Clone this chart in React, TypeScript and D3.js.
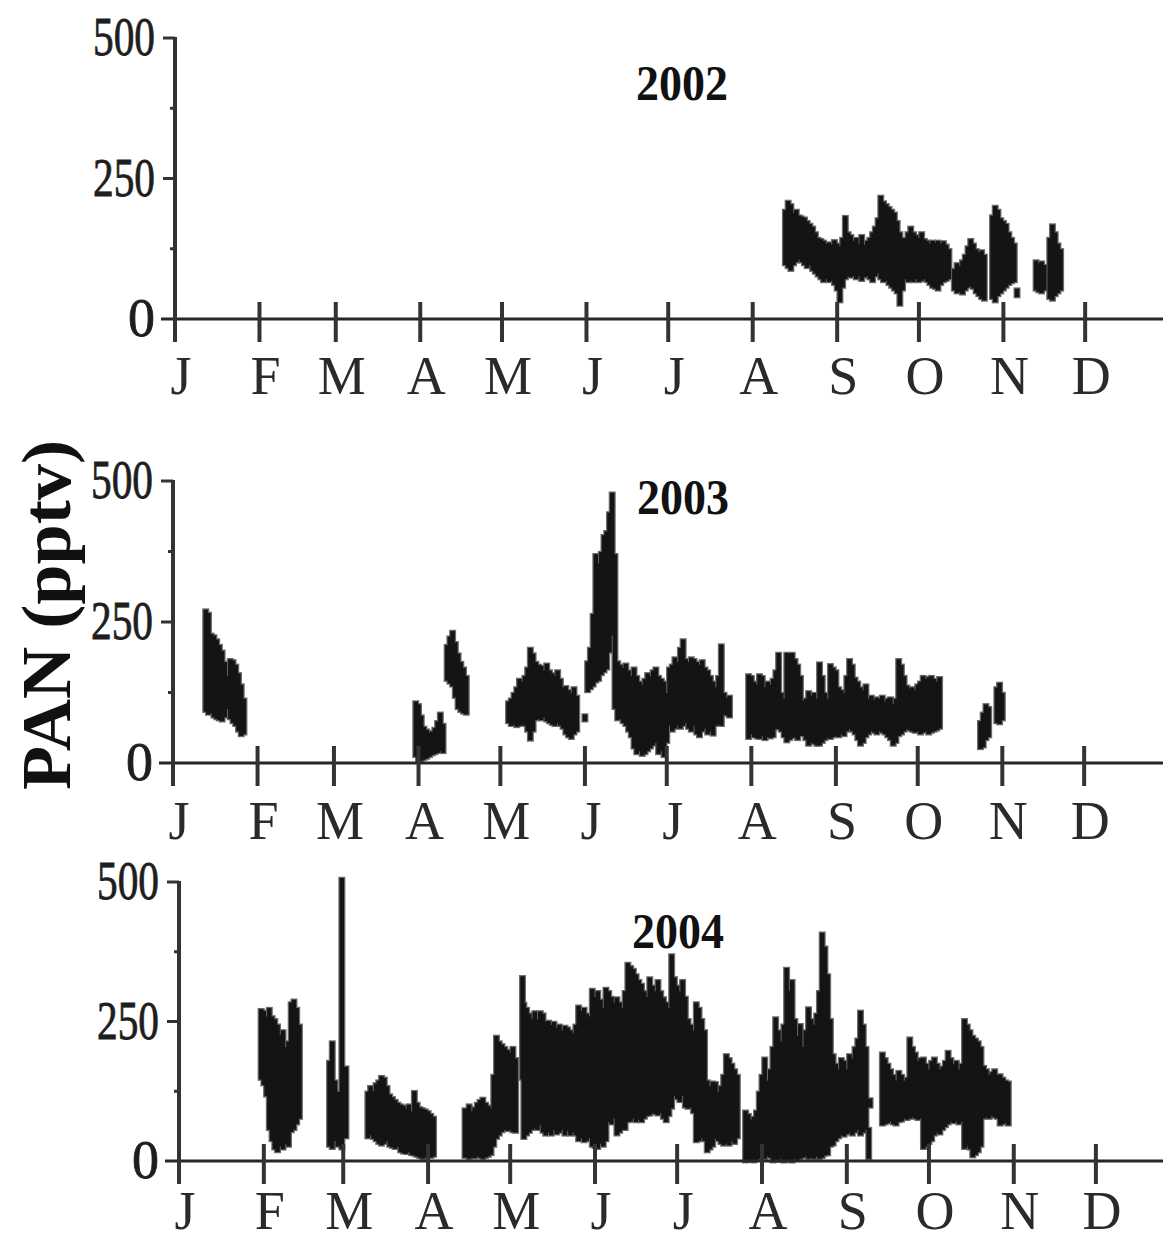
import * as d3 from 'd3'

// PAN mixing ratio, pptv — daily [dayOfYear (0 = Jan 1), low, high]
const pan2002: [number, number, number][] = [
    [224, 100, 190], [225, 95, 206], [226, 90, 200], [227, 100, 185], [228, 105, 190], [229, 110, 180], [230, 105, 178],
    [231, 100, 176], [232, 95, 170], [233, 100, 165], [234, 90, 160], [235, 85, 150], [236, 80, 140], [237, 75, 138],
    [238, 70, 135], [239, 75, 130], [240, 70, 132], [241, 72, 128], [242, 65, 136], [243, 55, 130], [244, 34, 125],
    [245, 60, 140], [246, 75, 179], [247, 80, 150], [248, 78, 145], [249, 80, 135], [250, 75, 140], [251, 80, 130],
    [252, 72, 145], [253, 78, 128], [254, 80, 135], [255, 75, 140], [256, 70, 150], [257, 80, 160], [258, 85, 175],
    [259, 75, 215], [260, 70, 205], [261, 72, 200], [262, 65, 195], [263, 60, 190], [264, 55, 185], [265, 50, 170],
    [266, 28, 150], [267, 55, 140], [268, 75, 140], [269, 70, 150], [270, 72, 160], [271, 70, 150], [272, 75, 145],
    [273, 70, 140], [274, 72, 150], [275, 75, 138], [276, 70, 135], [277, 65, 130], [278, 60, 135], [279, 58, 132],
    [280, 55, 135], [281, 65, 130], [282, 70, 134], [283, 72, 128], [284, 75, 120],
    [286, 55, 85], [287, 50, 95], [288, 52, 90], [289, 48, 100], [290, 55, 110], [291, 60, 125], [292, 62, 138],
    [293, 58, 130], [294, 50, 120], [295, 45, 115], [296, 40, 118], [297, 37, 110],
    [300, 40, 180], [301, 34, 197], [302, 45, 190], [303, 50, 175], [304, 55, 170], [305, 60, 165], [306, 65, 150],
    [307, 68, 140], [308, 70, 130], [309, 43, 50],
    [316, 55, 100], [317, 52, 95], [318, 50, 98], [319, 55, 92], [321, 40, 140], [322, 37, 164], [323, 45, 150],
    [324, 50, 130], [325, 55, 120],
]

const pan2003: [number, number, number][] = [
    [12, 95, 268], [13, 90, 262], [14, 92, 225], [15, 85, 222], [16, 82, 215], [17, 80, 205], [18, 78, 195],
    [19, 85, 175], [20, 100, 150], [21, 82, 180], [22, 75, 178], [23, 70, 170], [24, 60, 155], [25, 52, 135], [26, 55, 110],
    [89, 15, 105], [90, 5, 100], [91, 8, 80], [92, 10, 60], [93, 12, 55], [94, 15, 50], [95, 18, 52], [96, 20, 58],
    [97, 22, 70], [98, 25, 85], [99, 22, 65],
    [100.5, 150, 205], [101.5, 145, 220], [102.5, 140, 230], [103.5, 120, 210], [104.5, 100, 190], [105.5, 95, 175],
    [106.5, 92, 165], [107.5, 90, 150],
    [123, 75, 105], [124, 70, 110], [125, 72, 120], [126, 68, 130], [127, 70, 145], [128, 72, 140], [129, 70, 150],
    [130, 60, 165], [131, 44, 200], [132, 60, 190], [133, 80, 175], [134, 82, 170], [135, 80, 168], [136, 85, 160],
    [137, 78, 172], [138, 75, 160], [139, 72, 155], [140, 70, 150], [141, 75, 160], [142, 70, 145], [143, 65, 130],
    [144, 55, 132], [145, 50, 125], [146, 47, 120], [147, 55, 130], [148, 60, 115],
    [151, 78, 82],
    [152, 130, 176], [153, 135, 200], [154, 140, 260], [155, 147, 366], [156, 150, 350], [157, 160, 370], [158, 165, 400],
    [159, 170, 407], [160, 200, 440], [161, 230, 475], [162, 100, 366],
    [163, 80, 176], [164, 82, 170], [165, 75, 165], [166, 70, 172], [167, 60, 160], [168, 50, 150], [169, 30, 165],
    [170, 20, 150], [171, 25, 140], [172, 17, 135], [173, 20, 145], [174, 25, 155], [175, 30, 150], [176, 35, 160],
    [177, 40, 165], [178, 20, 150], [179, 25, 145], [180, 15, 140], [181, 40, 120], [182, 70, 165], [183, 60, 170],
    [184, 65, 183], [185, 70, 175], [186, 65, 200], [187, 70, 215], [188, 75, 180], [189, 65, 175], [190, 60, 183],
    [191, 70, 180], [192, 55, 175], [193, 50, 170], [194, 60, 178], [195, 65, 165], [196, 55, 160], [197, 60, 150],
    [198, 53, 140], [199, 70, 130], [200, 72, 150], [201, 70, 206], [202, 90, 120], [203, 88, 111], [204, 85, 115],
    [211, 47, 153], [212, 55, 150], [213, 50, 140], [214, 48, 135], [215, 47, 153], [216, 52, 150], [217, 45, 130],
    [218, 50, 140], [219, 48, 135], [220, 50, 145], [221, 64, 160], [222, 64, 191], [223, 60, 120], [224, 50, 110],
    [225, 41, 191], [226, 45, 190], [227, 48, 191], [228, 50, 180], [229, 45, 170], [230, 52, 150], [231, 52, 106],
    [232, 45, 110], [233, 35, 123], [234, 40, 115], [235, 38, 120], [236, 35, 110], [237, 35, 174], [238, 40, 150],
    [239, 45, 120], [240, 48, 110], [241, 47, 171], [242, 50, 165], [243, 52, 160], [244, 50, 130], [245, 55, 125],
    [246, 52, 120], [247, 60, 150], [248, 64, 180], [249, 60, 170], [250, 55, 147], [251, 45, 140], [252, 35, 130],
    [253, 40, 125], [254, 50, 135], [255, 55, 110], [256, 60, 115], [257, 58, 108], [258, 55, 112], [259, 60, 110],
    [260, 58, 115], [261, 55, 105], [262, 50, 110], [263, 45, 112], [264, 35, 100], [265, 40, 110], [266, 52, 180],
    [267, 55, 170], [268, 60, 150], [269, 64, 133], [270, 62, 128], [271, 60, 130], [272, 58, 125], [273, 60, 135],
    [274, 55, 140], [275, 58, 150], [276, 60, 145], [277, 55, 148], [278, 58, 150], [279, 60, 145], [280, 62, 140],
    [281, 65, 148],
    [296, 29, 70], [297, 32, 85], [298, 45, 100], [299, 50, 95],
    [302, 75, 130], [303, 73, 138], [304, 80, 120],
]

const pan2004: [number, number, number][] = [
    [30, 150, 268], [31, 140, 265], [32, 120, 255], [33, 60, 270], [34, 40, 255], [35, 25, 250], [36, 20, 240],
    [37, 30, 222], [38, 25, 230], [39, 35, 200], [40, 30, 210], [41, 56, 280], [42, 60, 285], [43, 70, 270], [44, 80, 240],
    [55, 30, 175], [56, 26, 210], [57, 40, 140], [58, 30, 120], [59.5, 25, 503], [61, 45, 165],
    [69, 45, 120], [70, 50, 130], [71, 44, 121], [72, 40, 135], [73, 35, 140], [74, 32, 148], [75, 35, 145],
    [76, 40, 130], [77, 30, 115], [78, 28, 110], [79, 26, 105], [80, 30, 100], [81, 20, 97], [82, 18, 95],
    [83, 17, 90], [84, 20, 97], [85, 15, 85], [86, 14, 121], [87, 12, 100], [88, 10, 92], [89, 8, 90], [90, 10, 88],
    [91, 12, 85], [92, 10, 80], [93, 12, 75],
    [104.5, 10, 90], [106, 8, 97], [107, 10, 85], [108, 9, 92], [109, 12, 100], [110, 10, 105], [111, 8, 109],
    [112, 10, 100], [113, 12, 95], [114, 15, 90], [115, 30, 150], [116, 44, 220], [117, 50, 210], [118, 56, 205],
    [119, 60, 200], [120, 58, 195], [121, 60, 190], [122, 56, 200], [123, 55, 180], [125.5, 150, 327], [126, 44, 279],
    [127, 50, 270], [128, 55, 260], [129, 60, 250], [130, 62, 264], [131, 60, 250], [132, 68, 264], [133, 55, 260],
    [134, 50, 246], [135, 55, 247], [136, 50, 240], [137, 60, 245], [138, 52, 235], [139, 55, 240], [140, 60, 230],
    [141, 50, 238], [142, 58, 235], [143, 50, 230], [144, 55, 225], [145, 50, 240],
    [146, 40, 274], [147, 45, 265], [148, 38, 270], [149, 40, 260], [150, 45, 255], [151, 30, 304], [152, 28, 290],
    [153, 26, 300], [154, 35, 285], [155, 30, 270], [156, 40, 306], [157, 74, 300], [158, 70, 290], [159, 80, 280],
    [160, 50, 289], [161, 55, 280], [162, 60, 270], [163, 60, 300], [164, 74, 351], [165, 75, 345], [166, 80, 340],
    [167, 74, 330], [168, 78, 320], [169, 74, 313], [170, 80, 300], [171, 85, 290], [172, 86, 325], [173, 90, 310],
    [174, 88, 300], [175, 86, 320], [176, 90, 300], [177, 80, 289], [178, 74, 280], [179, 85, 270], [180, 98, 366],
    [181, 121, 325], [182, 115, 310], [183, 110, 300], [184, 121, 320], [185, 100, 290], [186, 98, 250], [187, 100, 240],
    [188, 90, 230], [189, 38, 280], [190, 40, 270], [191, 45, 250], [192, 40, 230], [193, 20, 140], [194, 25, 130],
    [195, 30, 138], [196, 44, 137], [197, 40, 120], [198, 35, 130], [199, 32, 150], [200, 35, 187], [201, 32, 180],
    [202, 40, 170], [203, 35, 160], [204, 45, 150],
    [207, 2, 86], [208, 5, 80], [209, 3, 70], [210, 2, 75], [211, 5, 86], [212, 8, 120], [213, 10, 150], [214, 8, 181],
    [215, 12, 140], [216, 10, 160], [217, 2, 200], [218, 5, 253], [219, 3, 230], [220, 8, 210], [221, 2, 240],
    [222, 5, 342], [223, 3, 300], [224, 2, 320], [225, 8, 250], [226, 6, 220], [227, 8, 241], [228, 10, 200],
    [229, 12, 230], [230, 8, 271], [231, 10, 250], [232, 8, 240], [233, 12, 260], [234, 8, 300], [235, 10, 405],
    [236, 14, 380], [237, 15, 330], [238, 30, 250], [239, 32, 187], [240, 40, 170], [241, 45, 160], [242, 50, 180],
    [243, 48, 175], [244, 52, 160], [245, 55, 187], [246, 50, 180], [247, 55, 200], [248, 60, 215], [249, 50, 265],
    [250, 55, 240], [251, 60, 200],
    [252.5, 100, 108], [252, 8, 55],
    [257, 68, 190], [258, 70, 180], [259, 72, 170], [260, 75, 160], [261, 70, 150], [262, 68, 140], [263, 74, 157],
    [264, 75, 150], [265, 80, 140], [266, 78, 145], [267, 80, 217], [268, 82, 200], [269, 80, 190], [270, 78, 175],
    [271, 80, 180], [272, 26, 181], [273, 30, 170], [274, 35, 160], [275, 40, 175], [276, 50, 181], [277, 55, 170],
    [278, 52, 160], [279, 60, 165], [280, 65, 175], [281, 70, 193], [282, 74, 180], [283, 72, 170], [284, 75, 175],
    [285, 70, 160], [286, 74, 170], [287, 26, 250], [288, 30, 240], [289, 25, 230], [290, 11, 220], [291, 15, 215],
    [292, 20, 210], [293, 30, 200], [294, 80, 166], [295, 82, 160], [296, 80, 150], [297, 85, 155], [298, 82, 160],
    [299, 80, 150], [300, 68, 151], [301, 70, 145], [302, 72, 140], [303, 68, 138],
]

const years = [2002, 2003, 2004]
const seriesByYear = [pan2002, pan2003, pan2004]
const monthLabels = ['J', 'F', 'M', 'A', 'M', 'J', 'J', 'A', 'S', 'O', 'N', 'D']
const yTicks = [0, 250, 500]
const yMinorTicks = [125, 375]
const yTitle = 'PAN (pptv)'

// panel placement (pixels)
const layout = [
    { x0: 175, perDay: 2.725, top: 38, bottom: 319, titleX: 682, titleY: 100, labelY: 394 },
    { x0: 173, perDay: 2.728, top: 481, bottom: 763, titleX: 683, titleY: 514, labelY: 839 },
    { x0: 179, perDay: 2.737, top: 882, bottom: 1161, titleX: 678, titleY: 948, labelY: 1229 },
]

const W = 1163
const H = 1241
const serif = '"Liberation Serif", "DejaVu Serif", serif'
const DAY = 86400000

const Panel = ({ year, data, l }: { year: number, data: [number, number, number][], l: typeof layout[0] }) => {
    const start = new Date(Date.UTC(year, 0, 1))
    const end = new Date(Date.UTC(year + 1, 0, 1))
    const nDays = (end.getTime() - start.getTime()) / DAY

    const x = d3.scaleUtc()
        .domain([start, end])
        .range([l.x0, l.x0 + l.perDay * nDays])
    const y = d3.scaleLinear()
        .domain([0, 500])
        .range([l.bottom, l.top])

    const dayX = (d: number) => x(new Date(start.getTime() + d * DAY))
    const months = x.ticks(d3.utcMonth.every(1)!).filter(d => d < end)

    return (
        <g>
            {/* data: dense hourly points shown as daily spreads */}
            <g>
                {data.map(([d, lo, hi], i) => (
                    <line key={'h' + i} x1={dayX(d)} x2={dayX(d)} y1={y(lo)} y2={y(hi)}
                        stroke='#6a6a6a' strokeWidth={7} strokeLinecap='square' />
                ))}
                {data.map(([d, lo, hi], i) => (
                    <line key={'c' + i} x1={dayX(d)} x2={dayX(d)} y1={y(lo)} y2={y(hi)}
                        stroke='#141414' strokeWidth={4.5} strokeLinecap='square' />
                ))}
            </g>

            {/* x axis */}
            <line x1={l.x0 - 14} x2={W} y1={l.bottom} y2={l.bottom} stroke='#262626' strokeWidth={3} />
            {months.map((m, i) => (
                <g key={i}>
                    <line x1={x(m)} x2={x(m)} y1={l.bottom - 17} y2={l.bottom + 23} stroke='#333' strokeWidth={4} />
                    <text x={x(m) + 6} y={l.labelY} textAnchor='middle' fontFamily={serif}
                        fontSize={54} fill='#2a2a2a'>{monthLabels[i]}</text>
                </g>
            ))}

            {/* y axis */}
            <line x1={l.x0} x2={l.x0} y1={y(500) - 1} y2={l.bottom + 23} stroke='#333' strokeWidth={4} />
            {yTicks.filter(t => t > 0).map(t => (
                <line key={t} x1={l.x0 - 12} x2={l.x0} y1={y(t)} y2={y(t)} stroke='#333' strokeWidth={3} />
            ))}
            {yMinorTicks.map(t => (
                <line key={t} x1={l.x0 - 5} x2={l.x0} y1={y(t)} y2={y(t)} stroke='#333' strokeWidth={3} />
            ))}
            {yTicks.map(t => (
                <text key={t} x={l.x0 - 20} y={y(t) + 17} textAnchor='end' fontFamily={serif} fontSize={54}
                    fill='#1e1e1e' stroke='#1e1e1e' strokeWidth={0.8}
                    {...(String(t).length > 1 ? { textLength: 62, lengthAdjust: 'spacingAndGlyphs' } : {})}>
                    {t}
                </text>
            ))}

            <text x={l.titleX} y={l.titleY} textAnchor='middle' fontFamily={serif} fontWeight='bold'
                fontSize={50} fill='#111' textLength={92} lengthAdjust='spacingAndGlyphs'>{year}</text>
        </g>
    )
}

const App = () => {
    return (
        <svg width={W} height={H} style={{ position: 'absolute', left: 0, top: 0, background: '#fff' }}>
            <rect width={W} height={H} fill='#fff' />
            {years.map((yr, i) => (
                <Panel key={yr} year={yr} data={seriesByYear[i]} l={layout[i]} />
            ))}
            <text transform='translate(70,615) rotate(-90)' textAnchor='middle' fontFamily={serif}
                fontWeight='bold' fontSize={70} fill='#111' textLength={350} lengthAdjust='spacingAndGlyphs'>
                {yTitle}
            </text>
        </svg>
    )
}

export default App
